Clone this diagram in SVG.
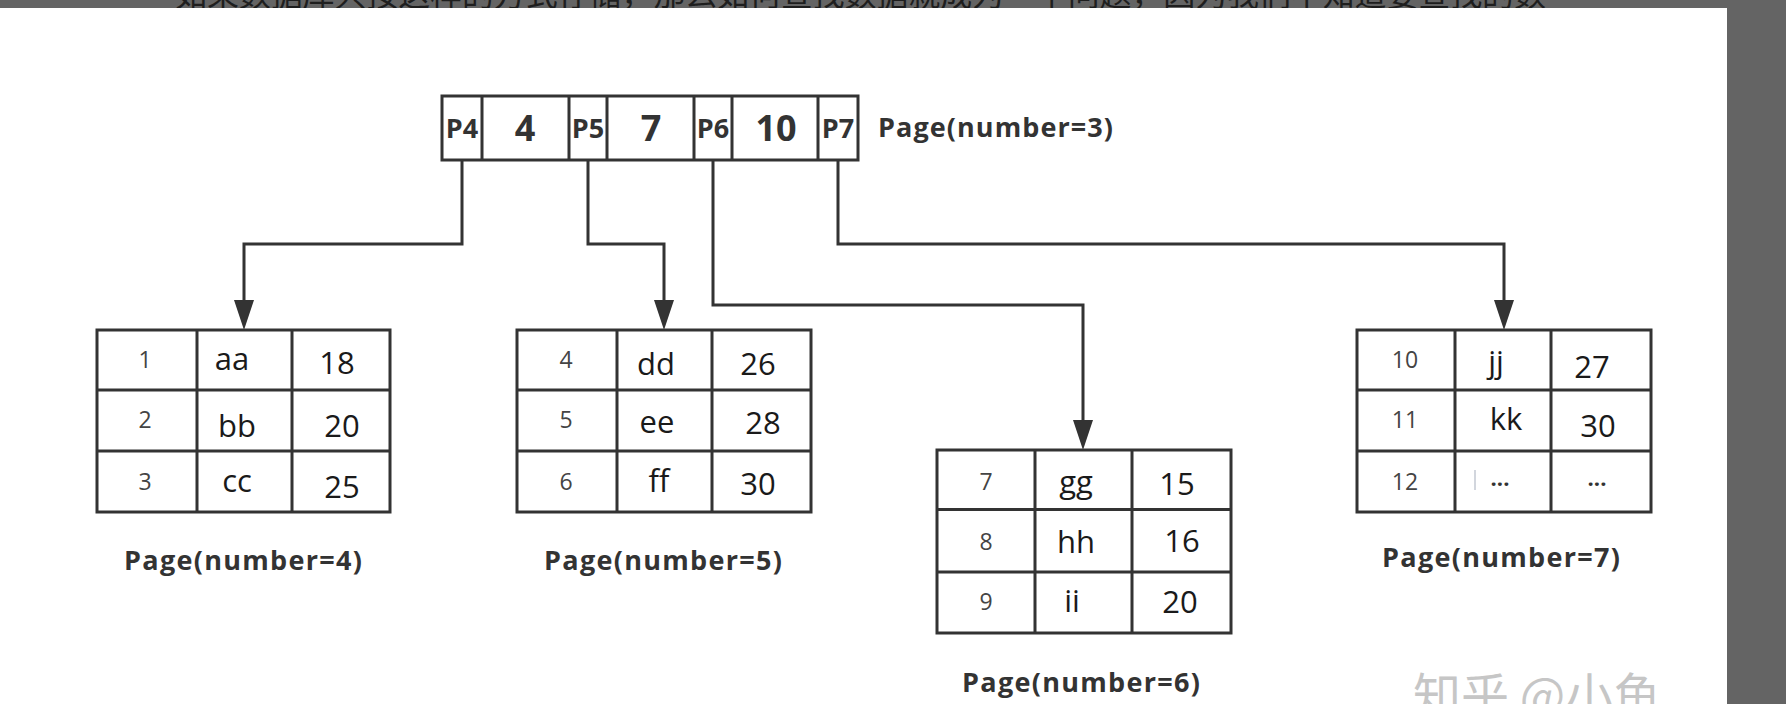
<svg xmlns="http://www.w3.org/2000/svg" width="1786" height="704" viewBox="0 0 1786 704">
  <style>
    .band { fill: #646464; }
    .top-txt { font-family: "Noto Sans CJK SC", "Noto Sans", sans-serif; font-size: 32px; fill: #1e1e1e; }
    .wm { font-family: "Noto Sans CJK SC", "Noto Sans", sans-serif; font-size: 48px; fill: #c6c6c6; }
    .box { fill: #ffffff; stroke: #333333; stroke-width: 3; }
    .grid { stroke: #333333; stroke-width: 3; fill: none; }
    .conn { stroke: #333333; stroke-width: 3; fill: none; stroke-linejoin: miter; marker-end: url(#arrow); }
    .ptr { font-family: "Open Sans", "Noto Sans", sans-serif; font-size: 27px; font-weight: bold; fill: #333333; text-anchor: middle; }
    .key { font-family: "Open Sans", "Noto Sans", sans-serif; font-size: 36px; font-weight: bold; fill: #333333; text-anchor: middle; }
    .idx { font-family: "Open Sans", "Noto Sans", sans-serif; font-size: 23px; fill: #444444; text-anchor: middle; }
    .val { font-family: "Open Sans", "Noto Sans", sans-serif; font-size: 31px; fill: #1a1a1a; text-anchor: middle; }
    .dots { font-family: "Open Sans", "Noto Sans", sans-serif; font-size: 22px; font-weight: bold; fill: #333333; text-anchor: middle; }
    .lbl { font-family: "Open Sans", "Noto Sans", sans-serif; font-size: 27px; font-weight: bold; fill: #333333; }
  </style>
  <defs>
    <marker id="arrow" markerUnits="userSpaceOnUse" markerWidth="30" markerHeight="20" refX="0" refY="10" orient="auto">
      <path d="M0,0 L30,10 L0,20 Z" fill="#333333"/>
    </marker>
  </defs>

  <!-- background frame -->
  <rect x="0" y="0" width="1786" height="704" class="band"/>
  <text class="top-txt" x="175" y="6" textLength="1371" lengthAdjust="spacing">如果数据库只按这样的方式存储，那么如何查找数据就成为一个问题，因为我们不知道要查找的数</text>
  <rect x="0" y="8" width="1727" height="696" fill="#ffffff"/>

  <!-- connectors -->
  <g id="connectors">
    <path class="conn" d="M462,160 V244 H244 V300"/>
    <path class="conn" d="M588,160 V244 H664 V300"/>
    <path class="conn" d="M713,160 V305 H1083 V420"/>
    <path class="conn" d="M838,160 V244 H1504 V300"/>
  </g>

  <!-- root page -->
  <g id="node-page3">
    <rect class="box" x="442" y="96" width="416" height="64"/>
    <path class="grid" d="M482,96 V160 M569,96 V160 M607,96 V160 M694,96 V160 M732,96 V160 M818,96 V160"/>
    <text class="ptr" x="462" y="138">P4</text>
    <text class="key" x="525" y="141">4</text>
    <text class="ptr" x="588" y="138">P5</text>
    <text class="key" x="651" y="141">7</text>
    <text class="ptr" x="713" y="138">P6</text>
    <text class="key" x="776" y="141">10</text>
    <text class="ptr" x="838" y="138">P7</text>
    <text class="lbl" x="878" y="137" textLength="235" lengthAdjust="spacing">Page(number=3)</text>
  </g>

  <!-- page 4 -->
  <g id="node-page4">
    <rect class="box" x="97" y="330" width="293" height="182"/>
    <path class="grid" d="M197,330 V512 M292,330 V512 M97,390 H390 M97,451 H390"/>
    <text class="idx" x="145" y="368">1</text>
    <text class="val" x="232" y="370">aa</text>
    <text class="val" x="337" y="374">18</text>
    <text class="idx" x="145" y="428">2</text>
    <text class="val" x="237" y="437">bb</text>
    <text class="val" x="342" y="437">20</text>
    <text class="idx" x="145" y="490">3</text>
    <text class="val" x="237" y="492">cc</text>
    <text class="val" x="342" y="498">25</text>
    <text class="lbl" x="124" y="570" textLength="238" lengthAdjust="spacing">Page(number=4)</text>
  </g>

  <!-- page 5 -->
  <g id="node-page5">
    <rect class="box" x="517" y="330" width="294" height="182"/>
    <path class="grid" d="M617,330 V512 M712,330 V512 M517,390 H811 M517,451 H811"/>
    <text class="idx" x="566" y="368">4</text>
    <text class="val" x="656" y="375">dd</text>
    <text class="val" x="758" y="375">26</text>
    <text class="idx" x="566" y="428">5</text>
    <text class="val" x="657" y="433">ee</text>
    <text class="val" x="763" y="434">28</text>
    <text class="idx" x="566" y="490">6</text>
    <text class="val" x="659" y="492">ff</text>
    <text class="val" x="758" y="495">30</text>
    <text class="lbl" x="544" y="570" textLength="238" lengthAdjust="spacing">Page(number=5)</text>
  </g>

  <!-- page 6 -->
  <g id="node-page6">
    <rect class="box" x="937" y="450" width="294" height="183"/>
    <path class="grid" d="M1035,450 V633 M1132,450 V633 M937,509.5 H1231 M937,572 H1231"/>
    <text class="idx" x="986" y="490">7</text>
    <text class="val" x="1076" y="493">gg</text>
    <text class="val" x="1177" y="495">15</text>
    <text class="idx" x="986" y="550">8</text>
    <text class="val" x="1076" y="553">hh</text>
    <text class="val" x="1182" y="552">16</text>
    <text class="idx" x="986" y="610">9</text>
    <text class="val" x="1072" y="612">ii</text>
    <text class="val" x="1180" y="613">20</text>
    <text class="lbl" x="962" y="692" textLength="238" lengthAdjust="spacing">Page(number=6)</text>
  </g>

  <!-- page 7 -->
  <g id="node-page7">
    <rect class="box" x="1357" y="330" width="294" height="182"/>
    <path class="grid" d="M1455,330 V512 M1551,330 V512 M1357,390 H1651 M1357,451 H1651"/>
    <text class="idx" x="1405" y="368">10</text>
    <text class="val" x="1496" y="373">jj</text>
    <text class="val" x="1592" y="378">27</text>
    <text class="idx" x="1405" y="428">11</text>
    <text class="val" x="1506" y="430">kk</text>
    <text class="val" x="1598" y="437">30</text>
    <text class="idx" x="1405" y="490">12</text>
    <line x1="1475" y1="470" x2="1475" y2="490" stroke="#c3c8d2" stroke-width="1.5"/>
    <text class="dots" x="1500" y="486">...</text>
    <text class="dots" x="1597" y="486">...</text>
    <text class="lbl" x="1382" y="567" textLength="238" lengthAdjust="spacing">Page(number=7)</text>
  </g>

  <!-- watermark and right band -->
  <text class="wm" x="1413" y="713">知乎 @小鱼</text>
  <rect x="1727" y="0" width="59" height="704" class="band"/>
</svg>
